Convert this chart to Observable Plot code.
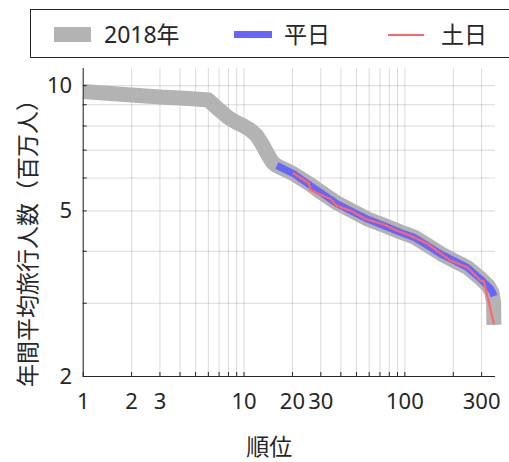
<!DOCTYPE html>
<html>
<head>
<meta charset="utf-8">
<script src="https://cdn.jsdelivr.net/npm/d3@7"></script>
<script src="https://cdn.jsdelivr.net/npm/@observablehq/plot@0.6"></script>
<style>
  body { margin: 0; background: #fff; }
  #wrap { position: relative; width: 509px; height: 462px; overflow: hidden;
          font-family: "Noto Sans", "Noto Sans CJK JP", sans-serif; color: #262626; }
  #legend { position: absolute; left: 30px; top: 9px; width: 492px; height: 49px;
            box-sizing: border-box; border: 1px solid #262626; background: #fff; }
  .sw { position: absolute; }
  .lt { position: absolute; top: 9px; font-size: 23px; line-height: 30px; white-space: nowrap; }
</style>
</head>
<body>
<div id="wrap">
  <div id="chart"></div>
  <div id="legend"></div>
</div>
<script>
// Stations ranked by annual average ridership (millions), log–log
const rank2018 = [1, 2, 3, 4, 5, 6, 7, 8, 9, 10, 11, 12, 13, 14, 15, 16, 20, 26, 30, 38, 46, 58, 74, 94, 114, 138, 167, 202, 244, 296, 330, 348, 356, 358];
const riders2018 = [9.68, 9.50, 9.40, 9.34, 9.29, 9.24, 8.75, 8.38, 8.15, 8.00, 7.82, 7.58, 7.22, 6.85, 6.55, 6.42, 6.16, 5.78, 5.55, 5.22, 5.02, 4.79, 4.62, 4.45, 4.33, 4.14, 3.95, 3.80, 3.66, 3.44, 3.30, 3.18, 3.02, 2.66];

const rankWeekday = [16, 20.4, 25.9, 29.9, 38, 45.9, 58.4, 74, 94, 114, 138, 167, 202, 244, 296, 341, 352, 358];
const ridersWeekday = [6.43, 6.14, 5.75, 5.54, 5.20, 5.01, 4.78, 4.61, 4.44, 4.32, 4.13, 3.94, 3.80, 3.66, 3.43, 3.25, 3.18, 3.12];

const rankWeekend = [20.2, 25.3, 25.9, 29.9, 34.5, 37.6, 45.9, 57, 74, 89.7, 108.5, 138, 159, 192, 244, 296, 310, 358];
const ridersWeekend = [6.17, 5.83, 5.62, 5.47, 5.34, 5.15, 5.01, 4.78, 4.64, 4.48, 4.36, 4.17, 4.01, 3.80, 3.66, 3.40, 3.39, 2.67];

// Axis ticks
const xGrid = [1, 2, 3, 4, 5, 6, 7, 8, 9, 10, 20, 30, 40, 50, 60, 70, 80, 90, 100, 200, 300];
const xLabels = [1, 2, 3, 10, 20, 30, 100, 300];
const yGrid = [2, 3, 4, 5, 6, 7, 8, 9, 10];
const yLabels = [2, 5, 10];

const seriesNames = ["2018年", "平日", "土日"];
const seriesColors = ["#b3b3b3", "#6666ff", "#ff6666"];

const toRows = (xs, ys) => xs.map((r, i) => ({rank: r, riders: ys[i]}));
const s2018 = toRows(rank2018, riders2018);
const sWeekday = toRows(rankWeekday, ridersWeekday);
const sWeekend = toRows(rankWeekend, ridersWeekend);

const axisColor = "#262626";

const chart = Plot.plot({
  width: 509,
  height: 462,
  marginLeft: 82.7,
  marginRight: 14,
  marginTop: 68,
  marginBottom: 86,
  style: {fontFamily: '"Noto Sans", "Noto Sans CJK JP", sans-serif', fontSize: "22px", color: axisColor, background: "#fff", overflow: "visible"},
  x: {type: "log", domain: [1, 366]},
  y: {type: "log", domain: [2, 11]},
  marks: [
    Plot.gridX(xGrid, {stroke: axisColor, strokeOpacity: 0.17}),
    Plot.gridY(yGrid, {stroke: axisColor, strokeOpacity: 0.17}),
    Plot.line(s2018, {x: "rank", y: "riders", stroke: seriesColors[0], strokeWidth: 15, strokeLinecap: "butt", strokeLinejoin: "round"}),
    Plot.line(sWeekday, {x: "rank", y: "riders", stroke: seriesColors[1], strokeWidth: 7, strokeLinecap: "butt", strokeLinejoin: "round"}),
    Plot.line(sWeekend, {x: "rank", y: "riders", stroke: seriesColors[2], strokeWidth: 2.2, strokeLinecap: "butt", strokeLinejoin: "round"}),
    Plot.ruleY([2], {stroke: axisColor}),
    Plot.ruleX([1], {stroke: axisColor}),
    // inward tick marks
    Plot.axisX(xGrid, {tickSize: 4, dy: -4, fill: "none", stroke: axisColor, label: null}),
    Plot.axisY(yGrid, {tickSize: 4, dx: 4, fill: "none", stroke: axisColor, label: null}),
    // tick labels
    Plot.text(xLabels, {x: d => d, text: d => String(d), frameAnchor: "bottom", lineAnchor: "top", textAnchor: "middle", dy: 17, fontSize: 22, fill: axisColor}),
    Plot.text(yLabels, {y: d => d, text: d => String(d), frameAnchor: "left", lineAnchor: "middle", textAnchor: "end", dx: -11, fontSize: 22, fill: axisColor}),
    // axis titles
    Plot.text(["順位"], {text: d => d, frameAnchor: "bottom", textAnchor: "middle", lineAnchor: "middle", dx: -20, dy: 71, fontSize: 23, fill: axisColor}),
    Plot.text(["年間平均旅行人数（百万人）"], {text: d => d, frameAnchor: "left", textAnchor: "middle", lineAnchor: "middle", rotate: -90, dx: -55, dy: 15, fontSize: 23, fill: axisColor})
  ]
});
document.getElementById("chart").appendChild(chart);

// Legend
const legend = document.getElementById("legend");
const items = [
  {sw: {left: 23, top: 17, width: 37, height: 15}, text: 73},
  {sw: {left: 203, top: 21, width: 38, height: 7}, text: 253},
  {sw: {left: 357, top: 23.5, width: 36, height: 2.2}, text: 410}
];
items.forEach((it, i) => {
  const s = document.createElement("div");
  s.className = "sw";
  Object.assign(s.style, {left: it.sw.left + "px", top: it.sw.top + "px", width: it.sw.width + "px", height: it.sw.height + "px", background: seriesColors[i]});
  legend.appendChild(s);
  const t = document.createElement("div");
  t.className = "lt";
  t.style.left = it.text + "px";
  t.textContent = seriesNames[i];
  legend.appendChild(t);
});
</script>
</body>
</html>
